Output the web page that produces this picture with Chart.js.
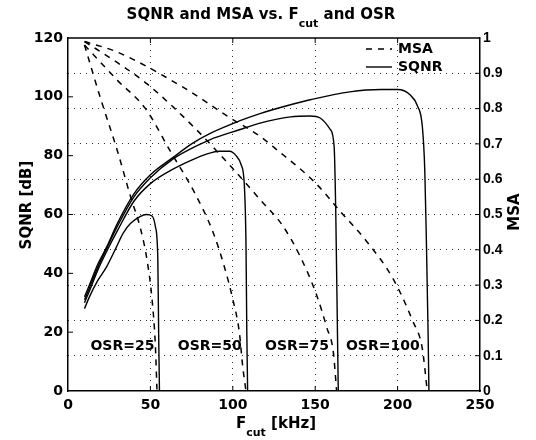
<!DOCTYPE html>
<html>
<head>
<meta charset="utf-8">
<script src="https://cdn.jsdelivr.net/npm/chart.js@4.4.0/dist/chart.umd.min.js"></script>
<style>
    html, body { margin: 0; padding: 0; background: #fff; }
</style>
</head>
<body>
<canvas id="chart" width="536" height="440"></canvas>
<script>
// tick values
const X_TICKS = [0, 50, 100, 150, 200, 250];
const SQNR_TICKS = [0, 20, 40, 60, 80, 100, 120];
const MSA_TICKS = [0, 0.1, 0.2, 0.3, 0.4, 0.5, 0.6, 0.7, 0.8, 0.9, 1];

const OSR_LABELS = ['OSR=25', 'OSR=50', 'OSR=75', 'OSR=100'];

// SQNR [dB] vs Fcut [kHz], one pair per OSR
const FCUT_SQNR_25 = [10, 13, 18, 23.5, 29, 33.5, 38, 43.7, 47.5, 51, 53, 54.5, 55, 55.5];
const SQNR_25 = [28, 32, 37.5, 42.3, 48.5, 53.7, 57, 59.3, 60, 59.5, 56, 45, 20, 0];

const FCUT_SQNR_50 = [10, 13, 18, 23.5, 30, 40, 50, 64, 75, 84, 92, 98, 102, 105, 107, 108, 108.5, 109];
const SQNR_50 = [30, 34, 41, 47.5, 54.5, 64.5, 70.5, 75.5, 78.5, 80.5, 81.5, 81.5, 80, 77, 70, 50, 20, 0];

const FCUT_SQNR_75 = [10, 13, 18, 23.5, 30, 40, 50, 64, 75, 86, 104, 116, 135, 147, 153, 159, 161.5, 162.5, 163.5, 164];
const SQNR_75 = [31, 35, 42, 48.5, 56, 66, 72.5, 79, 82.5, 85.4, 88.8, 91, 93.2, 93.5, 92.8, 89, 83, 60, 20, 0];

const FCUT_SQNR_100 = [10, 13, 18, 23.5, 30, 40, 50, 64, 75, 86, 104, 116.5, 135, 147, 171, 190, 200, 207.5, 212, 215, 216.5, 217.5, 218.5, 219];
const SQNR_100 = [32, 36, 43, 49, 57, 67, 73.5, 79.5, 84, 87.5, 91.8, 94.3, 97.3, 99, 101.7, 102.5, 102.5, 100.7, 97, 90, 75, 50, 20, 0];

// MSA vs Fcut [kHz]
const FCUT_MSA_25 = [10, 20, 30, 38, 44, 48, 51, 53, 54];
const MSA_25 = [0.98, 0.825, 0.68, 0.55, 0.46, 0.37, 0.26, 0.13, 0];

const FCUT_MSA_50 = [10, 16, 30, 47, 62, 77, 88, 95, 100, 104, 106, 108];
const MSA_50 = [0.98, 0.95, 0.88, 0.8, 0.68, 0.56, 0.45, 0.35, 0.26, 0.165, 0.07, 0];

const FCUT_MSA_75 = [10, 30, 48, 78, 100, 117, 130, 141, 151, 157, 161, 163];
const MSA_75 = [0.99, 0.93, 0.87, 0.74, 0.63, 0.54, 0.47, 0.38, 0.27, 0.18, 0.11, 0];

const FCUT_MSA_100 = [10, 30, 70, 98, 117, 125, 150, 165, 181, 197, 209, 215, 218];
const MSA_100 = [0.99, 0.96, 0.86, 0.775, 0.72, 0.69, 0.59, 0.51, 0.425, 0.32, 0.2, 0.12, 0];

const FONT = '"DejaVu Sans", "Liberation Sans", sans-serif';
const NARROW = '"Liberation Sans", Arial, sans-serif';

function toPoints(xs, ys) {
    return xs.map((x, i) => ({ x, y: ys[i] }));
}

function sqnrSet(xs, ys) {
    return {
        label: 'SQNR',
        data: toPoints(xs, ys),
        yAxisID: 'y',
        borderColor: '#000',
        borderWidth: 1.4,
        pointRadius: 0,
        fill: false,
        cubicInterpolationMode: 'monotone'
    };
}

function msaSet(xs, ys) {
    return {
        label: 'MSA',
        data: toPoints(xs, ys),
        yAxisID: 'y1',
        borderColor: '#000',
        borderWidth: 1.5,
        borderDash: [6, 6],
        pointRadius: 0,
        fill: false,
        cubicInterpolationMode: 'monotone'
    };
}

// draws a run of text pieces, some of them as subscripts
function drawParts(ctx, parts, x, y, size, align) {
    const subSize = Math.round(size * 0.75);
    let total = 0;
    parts.forEach(p => {
        ctx.font = `bold ${p.sub ? subSize : size}px ${FONT}`;
        p.w = ctx.measureText(p.t).width;
        total += p.w;
    });
    let cx = align === 'center' ? x - total / 2 : x;
    parts.forEach(p => {
        ctx.font = `bold ${p.sub ? subSize : size}px ${FONT}`;
        ctx.fillText(p.t, cx, p.sub ? y + size * 0.55 : y);
        cx += p.w;
    });
}

const decorPlugin = {
    id: 'decor',
    afterDraw(chart) {
        const { ctx, chartArea: a, scales } = chart;
        const xs = scales.x, ys = scales.y, ys1 = scales.y1;
        ctx.save();
        ctx.strokeStyle = '#000';
        ctx.fillStyle = '#000';

        // top edge of the box
        ctx.lineWidth = 1.5;
        ctx.beginPath();
        ctx.moveTo(a.left, a.top);
        ctx.lineTo(a.right, a.top);
        ctx.stroke();

        // inward ticks
        ctx.lineWidth = 1;
        ctx.beginPath();
        X_TICKS.slice(1, -1).forEach(v => {
            const px = xs.getPixelForValue(v);
            ctx.moveTo(px, a.bottom); ctx.lineTo(px, a.bottom - 5);
            ctx.moveTo(px, a.top); ctx.lineTo(px, a.top + 5);
        });
        SQNR_TICKS.slice(1, -1).forEach(v => {
            const py = ys.getPixelForValue(v);
            ctx.moveTo(a.left, py); ctx.lineTo(a.left + 5, py);
        });
        MSA_TICKS.slice(1, -1).forEach(v => {
            const py = ys1.getPixelForValue(v);
            ctx.moveTo(a.right, py); ctx.lineTo(a.right - 5, py);
        });
        ctx.stroke();

        // title
        ctx.textBaseline = 'alphabetic';
        ctx.textAlign = 'left';
        drawParts(ctx, [
            { t: 'SQNR and MSA vs. F' },
            { t: 'cut', sub: true },
            { t: ' and OSR' }
        ], 261, 19, 15, 'center');

        // x axis title
        drawParts(ctx, [
            { t: 'F' },
            { t: 'cut', sub: true },
            { t: ' [kHz]' }
        ], 276, 428, 15, 'center');

        // y axis titles
        ctx.textAlign = 'center';
        ctx.textBaseline = 'middle';
        ctx.font = `bold 15px ${FONT}`;
        ctx.save();
        ctx.translate(27, 205);
        ctx.rotate(-Math.PI / 2);
        ctx.fillText('SQNR [dB]', 0, 0);
        ctx.restore();
        ctx.save();
        ctx.translate(515, 212);
        ctx.rotate(-Math.PI / 2);
        ctx.fillText('MSA', 0, 0);
        ctx.restore();

        // OSR labels near the bottom
        const labelX = [33, 86, 139, 191];
        ctx.font = `bold 14px ${FONT}`;
        OSR_LABELS.forEach((t, i) => {
            ctx.fillText(t, xs.getPixelForValue(labelX[i]), ys.getPixelForValue(15.3));
        });

        // legend
        ctx.textAlign = 'left';
        ctx.font = `bold 14px ${FONT}`;
        ctx.lineWidth = 1.5;
        ctx.setLineDash([6, 6]);
        ctx.beginPath();
        ctx.moveTo(366, 49); ctx.lineTo(392, 49);
        ctx.stroke();
        ctx.setLineDash([]);
        ctx.lineWidth = 1.4;
        ctx.beginPath();
        ctx.moveTo(366, 67); ctx.lineTo(392, 67);
        ctx.stroke();
        ctx.fillText('MSA', 398, 49);
        ctx.fillText('SQNR', 398, 67);

        ctx.restore();
    }
};

const edgeColor = (edges) => (c) => edges.includes(c.tick && c.tick.value) ? 'rgba(0,0,0,0)' : '#333';

new Chart(document.getElementById('chart'), {
    type: 'line',
    data: {
        datasets: [
            msaSet(FCUT_MSA_25, MSA_25),
            msaSet(FCUT_MSA_50, MSA_50),
            msaSet(FCUT_MSA_75, MSA_75),
            msaSet(FCUT_MSA_100, MSA_100),
            sqnrSet(FCUT_SQNR_25, SQNR_25),
            sqnrSet(FCUT_SQNR_50, SQNR_50),
            sqnrSet(FCUT_SQNR_75, SQNR_75),
            sqnrSet(FCUT_SQNR_100, SQNR_100)
        ]
    },
    options: {
        responsive: false,
        animation: false,
        layout: { padding: { top: 38, left: 0, right: 0, bottom: 0 } },
        plugins: {
            legend: { display: false },
            title: { display: false },
            tooltip: { enabled: false }
        },
        scales: {
            x: {
                type: 'linear',
                min: 0,
                max: 250,
                afterBuildTicks: s => { s.ticks = X_TICKS.map(v => ({ value: v })); },
                afterFit: s => { s.height = 49; },
                ticks: { color: '#000', font: { family: FONT, size: 14, weight: 'bold' }, padding: 6, maxRotation: 0 },
                grid: { drawTicks: false, color: edgeColor([0, 250]), lineWidth: 1 },
                border: { color: '#000', width: 1.5, dash: [1, 5] }
            },
            y: {
                position: 'left',
                min: 0,
                max: 120,
                afterBuildTicks: s => { s.ticks = SQNR_TICKS.map(v => ({ value: v })); },
                afterFit: s => { s.width = 68; },
                ticks: { color: '#000', font: { family: FONT, size: 14, weight: 'bold' }, padding: 5 },
                grid: { drawOnChartArea: false, drawTicks: false },
                border: { color: '#000', width: 1.5 }
            },
            y1: {
                position: 'right',
                min: 0,
                max: 1,
                afterBuildTicks: s => { s.ticks = MSA_TICKS.map(v => ({ value: v })); },
                afterFit: s => { s.width = 56; },
                ticks: {
                    color: '#000',
                    font: { family: NARROW, size: 14, weight: 'bold' },
                    padding: 3,
                    callback: v => String(Math.round(v * 10) / 10)
                },
                grid: { drawTicks: false, color: edgeColor([0, 1]), lineWidth: 1 },
                border: { color: '#000', width: 1.5, dash: [1, 5] }
            }
        }
    },
    plugins: [decorPlugin]
});
</script>
</body>
</html>
